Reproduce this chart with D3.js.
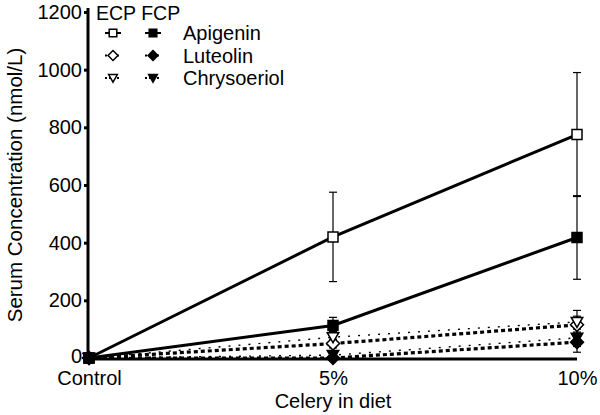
<!DOCTYPE html>
<html>
<head>
<style>
body { margin: 0; background: white; }
svg text { font-family: "Liberation Sans", Arial, sans-serif; fill: black; }
.axis path, .axis line { stroke: black; stroke-width: 3px; }
.axis text { font-size: 20px; }
</style>
</head>
<body>
<script src="https://cdn.jsdelivr.net/npm/d3@7"></script>
<svg id="chart" width="600" height="415"></svg>
<script>
const groups = ['Control', '5%', '10%'];
const yTicks = [0, 200, 400, 600, 800, 1000, 1200];

// means and error (SD) per diet group
const ecpApigenin = [0, 420, 775];
const ecpApigeninErr = [0, 155, 215];
const fcpApigenin = [0, 113, 418];
const fcpApigeninErr = [0, 28, 145];
const ecpLuteolin = [0, 50, 115];
const ecpLuteolinErr = [0, 15, 30];
const fcpLuteolin = [0, 0, 55];
const fcpLuteolinErr = [0, 5, 35];
const ecpChrysoeriol = [0, 72, 125];
const ecpChrysoeriolErr = [0, 20, 40];
const fcpChrysoeriol = [0, 10, 70];
const fcpChrysoeriolErr = [0, 8, 30];

const series = [
    {name: 'Apigenin', group: 'ECP', values: ecpApigenin, err: ecpApigeninErr, shape: 'square', filled: false, style: 'solid'},
    {name: 'Apigenin', group: 'FCP', values: fcpApigenin, err: fcpApigeninErr, shape: 'square', filled: true, style: 'solid'},
    {name: 'Luteolin', group: 'ECP', values: ecpLuteolin, err: ecpLuteolinErr, shape: 'diamond', filled: false, style: 'dash'},
    {name: 'Luteolin', group: 'FCP', values: fcpLuteolin, err: fcpLuteolinErr, shape: 'diamond', filled: true, style: 'dash'},
    {name: 'Chrysoeriol', group: 'ECP', values: ecpChrysoeriol, err: ecpChrysoeriolErr, shape: 'triangle', filled: false, style: 'dot'},
    {name: 'Chrysoeriol', group: 'FCP', values: fcpChrysoeriol, err: fcpChrysoeriolErr, shape: 'triangle', filled: true, style: 'dot'}
];

const svg = d3.select('#chart');
const x = d3.scalePoint().domain(groups).range([89, 577]).padding(0);
const y = d3.scaleLinear().domain([0, 1200]).range([358, 12]);

const lineStyles = {
    solid: {width: 3, dash: null},
    dash: {width: 3.2, dash: '4,3'},
    dot: {width: 1.4, dash: '2,8'}
};

function markerPath(shape, r){
    if (shape === 'square') return `M${-r},${-r}H${r}V${r}H${-r}Z`;
    if (shape === 'diamond') return `M0,${-r * 1.3}L${r * 1.3},0L0,${r * 1.3}L${-r * 1.3},0Z`;
    return `M${-r * 1.15},${-r * 0.9}H${r * 1.15}L0,${r * 1.1}Z`;
}

function drawMarker(g, s, cx, cy, r = 5){
    g.append('path')
        .attr('d', markerPath(s.shape, r))
        .attr('transform', `translate(${cx},${cy})`)
        .attr('fill', s.filled ? 'black' : 'white')
        .attr('stroke', 'black')
        .attr('stroke-width', 1.5);
}

// axes
svg.append('g')
    .attr('class', 'axis')
    .attr('transform', `translate(${x('Control') - 1},0)`)
    .call(d3.axisLeft(y).tickValues(yTicks).tickSize(4).tickPadding(2).tickFormat(d3.format('d')))
    .call(g => g.select('.domain').attr('d', `M0,${y(1200) - 4}V${y(0) + 1}`))
    .call(g => g.selectAll('.tick text').filter(d => d === 0).attr('y', -2));

svg.append('g')
    .attr('class', 'axis')
    .attr('transform', `translate(0,${y(0) + 1})`)
    .call(d3.axisBottom(x).tickSize(0).tickPadding(12))
    .call(g => g.select('.domain').attr('d', `M${x('Control') - 2},0H${x('10%')}`));

// lines
const line = d3.line().x((d, i) => x(groups[i])).y(d => y(d));
const plot = svg.append('g');
series.slice().reverse().forEach(s => {
    const st = lineStyles[s.style];
    plot.append('path')
        .attr('d', line(s.values))
        .attr('fill', 'none')
        .attr('stroke', 'black')
        .attr('stroke-width', st.width)
        .attr('stroke-dasharray', st.dash);
});

// error bars
series.forEach(s => {
    s.values.forEach((v, i) => {
        if (!s.err[i]) return;
        const cx = x(groups[i]);
        const g = plot.append('g').attr('stroke', 'black').attr('stroke-width', 1.2);
        g.append('line').attr('x1', cx).attr('x2', cx).attr('y1', y(v - s.err[i])).attr('y2', y(v + s.err[i]));
        [v - s.err[i], v + s.err[i]].forEach(e => {
            g.append('line').attr('x1', cx - 4).attr('x2', cx + 4).attr('y1', y(e)).attr('y2', y(e));
        });
    });
});

// markers
series.forEach(s => {
    s.values.forEach((v, i) => drawMarker(plot, s, x(groups[i]), y(v)));
});

// legend
const legend = svg.append('g');
legend.append('text').attr('x', 96).attr('y', 20).attr('font-size', 19.5).text('ECP FCP');
const legendNames = ['Apigenin', 'Luteolin', 'Chrysoeriol'];
legendNames.forEach((name, r) => {
    const ly = 33 + r * 22.5;
    ['ECP', 'FCP'].forEach((grp, c) => {
        const s = series.find(d => d.name === name && d.group === grp);
        const lx = 113 + c * 40;
        legend.append('line')
            .attr('x1', lx - 8).attr('x2', lx + 8).attr('y1', ly).attr('y2', ly)
            .attr('stroke', 'black')
            .attr('stroke-width', 2)
            .attr('stroke-dasharray', s.style === 'solid' ? null : '2,2');
        drawMarker(legend, s, lx, ly, 3.8);
    });
    legend.append('text').attr('x', 183).attr('y', ly + 7).attr('font-size', 20).text(name);
});

// axis titles
svg.append('text')
    .attr('transform', `translate(22,${(y(0) + y(1200)) / 2}) rotate(-90)`)
    .attr('text-anchor', 'middle')
    .attr('font-size', 20.5)
    .text('Serum Concentration (nmol/L)');

svg.append('text')
    .attr('x', x('5%'))
    .attr('y', 408)
    .attr('text-anchor', 'middle')
    .attr('font-size', 20)
    .text('Celery in diet');
</script>
</body>
</html>
